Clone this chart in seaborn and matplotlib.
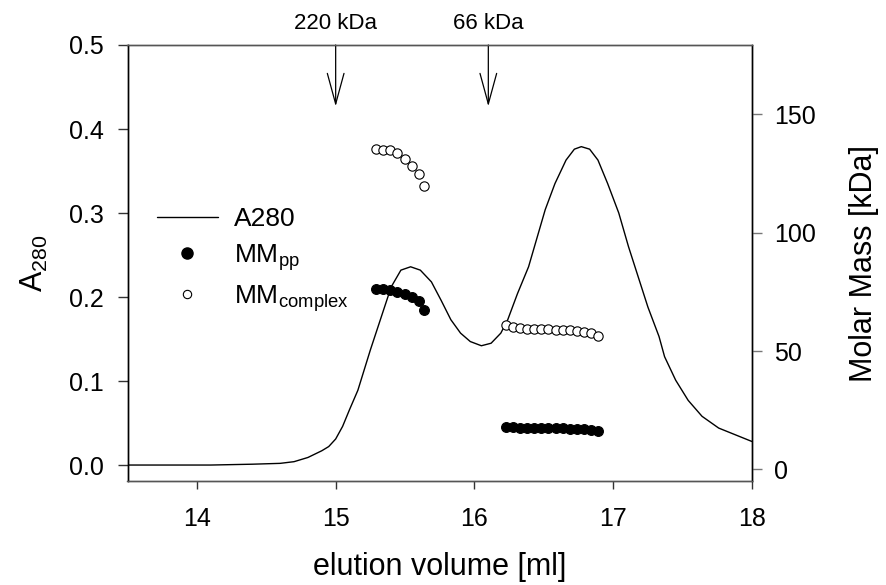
import numpy as np
import pandas as pd
import matplotlib
matplotlib.use('Agg')
import matplotlib.pyplot as plt
from matplotlib.lines import Line2D
from matplotlib.ticker import FormatStrFormatter
import seaborn as sns

# A280 trace
vol = [13.5, 13.8, 14.1, 14.4, 14.6, 14.7, 14.8, 14.9, 14.95, 15.0, 15.05, 15.1, 15.16,
       15.25, 15.33, 15.40, 15.47, 15.54, 15.61, 15.69, 15.76, 15.83, 15.90, 15.97,
       16.05, 16.12, 16.19, 16.24, 16.31, 16.39, 16.45, 16.51, 16.58, 16.66, 16.72,
       16.77, 16.83, 16.89, 16.96, 17.04, 17.11, 17.18, 17.25, 17.33, 17.37, 17.45,
       17.54, 17.64, 17.76, 17.88, 18.0]
a280 = [0.0, 0.0, 0.0, 0.001, 0.002, 0.004, 0.009, 0.017, 0.022, 0.031, 0.046, 0.066,
        0.089, 0.137, 0.177, 0.212, 0.232, 0.236, 0.232, 0.218, 0.196, 0.173, 0.157,
        0.147, 0.142, 0.145, 0.157, 0.173, 0.204, 0.236, 0.270, 0.304, 0.335, 0.363,
        0.376, 0.379, 0.376, 0.363, 0.335, 0.300, 0.260, 0.224, 0.188, 0.153, 0.129,
        0.101, 0.077, 0.058, 0.044, 0.036, 0.028]

# molar mass points (kDa), peak 1 and peak 2
vol_p1 = [15.29, 15.34, 15.39, 15.44, 15.50, 15.55, 15.60, 15.64]
mm_pp_p1 = [76.2, 76.1, 75.6, 74.9, 74.1, 73.0, 71.3, 67.3]
mm_cx_p1 = [135.4, 135.1, 135.0, 133.6, 131.0, 128.3, 124.7, 119.9]

vol_p2 = [16.23, 16.28, 16.33, 16.38, 16.43, 16.48, 16.53, 16.59, 16.64, 16.69,
          16.74, 16.79, 16.84, 16.89]
mm_pp_p2 = [18.0, 17.8, 17.7, 17.6, 17.5, 17.5, 17.4, 17.4, 17.3, 17.2, 17.1, 17.0,
            16.8, 16.4]
mm_cx_p2 = [61.0, 60.0, 59.6, 59.5, 59.4, 59.3, 59.2, 59.1, 59.0, 58.8, 58.5, 58.2,
            57.6, 56.5]

markers_x = [15.0, 16.1]
markers_lbl = ['220 kDa', '66 kDa']

sns.set_style('ticks')
plt.rcParams['font.family'] = ['Liberation Sans', 'DejaVu Sans']
plt.rcParams['text.color'] = 'black'
plt.rcParams['axes.labelcolor'] = 'black'

trace = pd.DataFrame({'vol': vol, 'A280': a280})
mm = pd.DataFrame({'vol': vol_p1 + vol_p2,
                   'pp': mm_pp_p1 + mm_pp_p2,
                   'complex': mm_cx_p1 + mm_cx_p2})

fig = plt.figure(figsize=(8.86, 5.85), dpi=100)
ax = fig.add_axes([127.5 / 886, 1 - 481 / 585, (752 - 127.5) / 886, (481 - 45) / 585])
ax2 = ax.twinx()

sns.lineplot(data=trace, x='vol', y='A280', ax=ax, color='black', linewidth=1.0)
sns.scatterplot(data=mm, x='vol', y='complex', ax=ax2, color='white',
                edgecolor='black', linewidth=0.8, s=45, zorder=3)
sns.scatterplot(data=mm, x='vol', y='pp', ax=ax2, color='black',
                edgecolor='black', linewidth=0.8, s=50, zorder=3)

ax.set_xlim(13.5, 18)
ax.set_ylim(-0.019, 0.5)
ax2.set_ylim(-4.9, 179.3)
ax.set_xticks([14, 15, 16, 17, 18])
ax.set_yticks([0.0, 0.1, 0.2, 0.3, 0.4, 0.5])
ax.yaxis.set_major_formatter(FormatStrFormatter('%.1f'))
ax2.set_yticks([0, 50, 100, 150])

ax.set_xlabel('elution volume [ml]', fontsize=22, labelpad=15)
ax.set_ylabel('A$_\\mathregular{280}$', fontsize=22, labelpad=14)
ax2.set_ylabel('Molar Mass [kDa]', fontsize=22, labelpad=24)

ax.tick_params(axis='x', direction='out', length=6, width=1, color='#333333',
               labelcolor='black', labelsize=18, pad=13)
ax.tick_params(axis='y', direction='out', length=7, width=1, color='#333333',
               labelcolor='black', labelsize=18, pad=10)
ax2.tick_params(axis='y', direction='out', length=7, width=1, color='#777777',
                labelcolor='black', labelsize=18, pad=9)

for a in (ax, ax2):
    for side in ['left', 'right']:
        a.spines[side].set_color('black')
        a.spines[side].set_linewidth(1.0)
    for side in ['top', 'bottom']:
        a.spines[side].set_color('#555555')
        a.spines[side].set_linewidth(1.0)
    a.spines['top'].set_visible(True)
    a.spines['right'].set_visible(True)

# standard markers
for xm, lbl in zip(markers_x, markers_lbl):
    ax.annotate('', xy=(xm, 0.427), xytext=(xm, 0.5),
                arrowprops=dict(arrowstyle='->,head_length=1.1,head_width=0.3',
                                color='black', lw=0.9, mutation_scale=20,
                                shrinkA=0, shrinkB=0))
    ax.text(xm, 0.513, lbl, ha='center', va='bottom', fontsize=16)

handles = [Line2D([], [], color='black', lw=1.0),
           Line2D([], [], marker='o', ls='none', color='black', markersize=8),
           Line2D([], [], marker='o', ls='none', markerfacecolor='white',
                  markeredgecolor='black', markersize=6, markeredgewidth=0.8)]
labels = ['A280', 'MM$_\\mathregular{pp}$', 'MM$_\\mathregular{complex}$']
ax2.legend(handles, labels, loc='upper left', bbox_to_anchor=(157 / 886, 1 - 207 / 585),
           bbox_transform=fig.transFigure, frameon=False, fontsize=19,
           handlelength=2.3, handletextpad=0.6, labelspacing=0.4, borderpad=0,
           borderaxespad=0)

fig.savefig('out.png', dpi=100)
